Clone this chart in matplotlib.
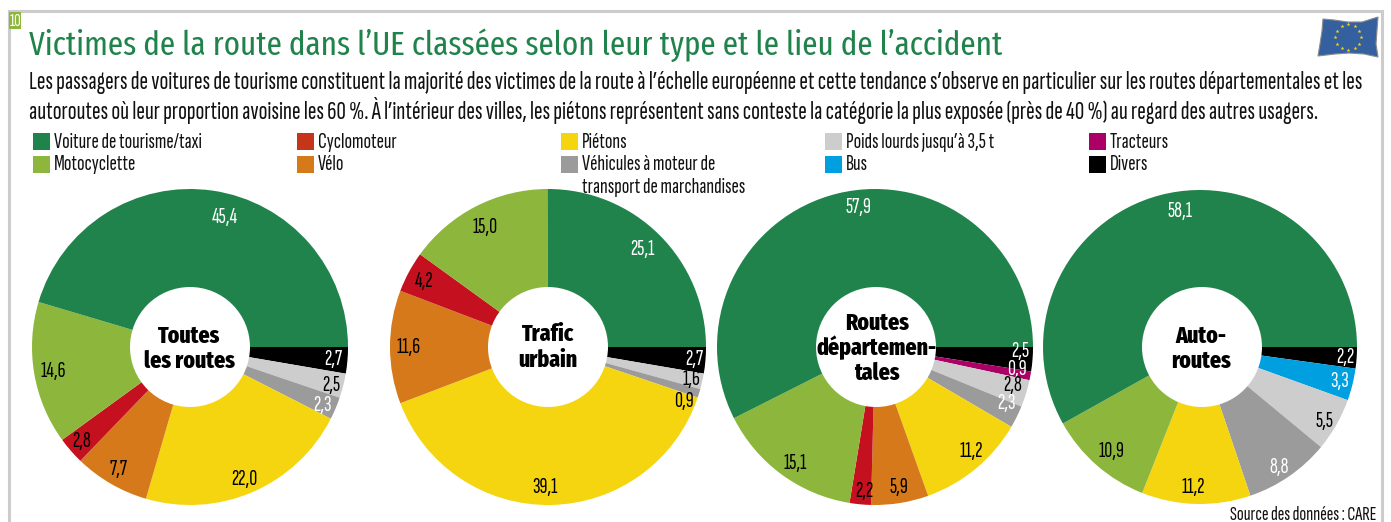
import matplotlib
matplotlib.use("Agg")
import matplotlib.pyplot as plt
from matplotlib.patches import Circle, Polygon, Rectangle
import numpy as np

W = 1391
H = 522
BODY = ["Sofia Sans Extra Condensed", "Fira Sans Extra Condensed", "Liberation Sans", "DejaVu Sans"]
HEAD = ["Fira Sans Extra Condensed", "Liberation Sans", "DejaVu Sans"]
plt.rcParams["font.family"] = BODY

GREEN = "#20834b"
MOTO = "#8db63c"
RED = "#c5101f"
ORANGE = "#d6791b"
YELLOW = "#f5d50f"
GREY = "#9b9b9b"
LGREY = "#cdcdcd"
TRACT = "#ab0066"
BUS = "#009fe0"
BLACK = "#000000"

# values, clockwise from 3 o'clock
all_values = [2.7, 2.5, 2.3, 22.0, 7.7, 2.8, 14.6, 45.4]
all_colors = [BLACK, LGREY, GREY, YELLOW, ORANGE, RED, MOTO, GREEN]
urban_values = [2.7, 1.6, 0.9, 39.1, 11.6, 4.2, 15.0, 25.1]
urban_colors = [BLACK, LGREY, GREY, YELLOW, ORANGE, RED, MOTO, GREEN]
dept_values = [2.5, 0.9, 2.8, 2.3, 11.2, 5.9, 2.2, 15.1, 57.9]
dept_colors = [BLACK, TRACT, LGREY, GREY, YELLOW, ORANGE, RED, MOTO, GREEN]
auto_values = [2.2, 3.3, 5.5, 8.8, 11.2, 10.9, 58.1]
auto_colors = [BLACK, BUS, LGREY, GREY, YELLOW, MOTO, GREEN]

legend_names = [["Voiture de tourisme/taxi", "Motocyclette"],
                ["Cyclomoteur", "Vélo"],
                ["Piétons", "Véhicules à moteur de\ntransport de marchandises"],
                ["Poids lourds jusqu’à 3,5 t", "Bus"],
                ["Tracteurs", "Divers"]]
legend_colors = [[GREEN, MOTO], ["#c5351a", ORANGE], [YELLOW, GREY], [LGREY, BUS], [TRACT, BLACK]]

title = "Victimes de la route dans l’UE classées selon leur type et le lieu de l’accident"
intro1 = "Les passagers de voitures de tourisme constituent la majorité des victimes de la route à l’échelle européenne et cette tendance s’observe en particulier sur les routes départementales et les"
intro2 = "autoroutes où leur proportion avoisine les 60 %. À l’intérieur des villes, les piétons représentent sans conteste la catégorie la plus exposée (près de 40 %) au regard des autres usagers."

fig = plt.figure(figsize=(W / 100, H / 100), dpi=100)
ax = fig.add_axes([0, 0, 1, 1])


def Y(y):
    return H - y


def put(x, y, s, **kw):
    kw.setdefault("va", "center")
    kw.setdefault("ha", "center")
    ax.text(x, Y(y), s, **kw)


def donut(values, colors, cx, cy, r, hole_x, center_lines, labels):
    ax.pie(values, colors=colors, startangle=0, counterclock=False,
           center=(cx, Y(cy)), radius=r, normalize=True,
           wedgeprops={"linewidth": 0})
    ax.add_patch(Circle((hole_x, Y(cy)), 60, fc="white", ec="none", zorder=3))
    for (tx, ty, s) in center_lines:
        put(tx, ty, s, fontsize=17, fontweight=800, color="black", zorder=4, family=HEAD)
    for v, (lx, ly, col) in zip(values, labels):
        put(lx, ly, ("%.1f" % v).replace(".", ","), fontsize=16, color=col, zorder=4)


donut(all_values, all_colors, 190, 347, 158, 190,
      [(189, 336, "Toutes"), (189, 361, "les routes")],
      [(333, 359, "white"), (331, 385, "black"), (322, 405, "white"), (244, 479, "black"),
       (118, 469, "black"), (82, 442, "black"), (53, 372, "black"), (225, 218, "white")])
donut(urban_values, urban_colors, 548, 347, 158, 548,
      [(548, 334, "Trafic"), (548, 360, "urbain")],
      [(694, 360, "white"), (691, 380, "black"), (684, 401, "black"), (545, 488, "black"),
       (409, 347, "black"), (424, 282, "black"), (485, 228, "black"), (642, 249, "white")])
donut(dept_values, dept_colors, 875, 347, 158, 876,
      [(877, 323, "Routes"), (877, 348, "départemen-"), (877, 373, "tales")],
      [(1020, 351, "white"), (1017, 369, "white"), (1013, 386, "black"), (1006, 404, "white"),
       (971, 451, "black"), (899, 488, "black"), (864, 491, "black"), (795, 463, "black"),
       (858, 208, "white")])
donut(auto_values, auto_colors, 1200, 347, 157, 1202,
      [(1201, 336, "Auto-"), (1201, 361, "routes")],
      [(1345, 358, "white"), (1340, 382, "white"), (1325, 421, "black"), (1279, 467, "white"),
       (1193, 487, "black"), (1111, 452, "black"), (1180, 211, "white")])

# frame
ax.plot([9, 9, 1382, 1382], [Y(522), Y(11), Y(11), Y(522)], color="#cccccc", lw=2.2, zorder=1,
        solid_joinstyle="miter")
ax.add_patch(Rectangle((9, Y(29)), 12, 17, fc=MOTO, ec="none", zorder=2))
put(15, 21, "10", fontsize=13, color="white", zorder=3)

# heading
put(29, 45, title, ha="left", fontsize=24.2, color=GREEN, family=HEAD)
put(29, 82, intro1, ha="left", fontsize=18.7, color="#111111")
put(29, 110, intro2, ha="left", fontsize=18.7, color="#111111")

# legend
col_x = [33, 297, 561, 825, 1089]
row_y = [141, 164]
for x, names, cols in zip(col_x, legend_names, legend_colors):
    for y, name, c in zip(row_y, names, cols):
        ax.add_patch(Rectangle((x, Y(y + 9)), 17, 17, fc=c, ec="none"))
        parts = name.split("\n")
        for i, p in enumerate(parts):
            put(x + 21, y + 1 + i * 22.5, p, ha="left", fontsize=16, color="#111111")

put(1377, 515, "Source des données : CARE", ha="right", fontsize=14.6, color="#111111")

# flag
xs = np.array([1323, 1334, 1348, 1362, 1378, 1377, 1376, 1378, 1364, 1349, 1335, 1318, 1320, 1322])
ys = np.array([19, 20, 22, 22, 17, 30, 44, 57, 54, 53, 54, 56, 44, 31])
ax.add_patch(Polygon(np.c_[xs, H - ys], closed=True, fc="#34609f", ec="#8a8a8a", lw=0.8, zorder=2))
ang = np.arange(12) * np.pi / 6
ax.scatter(1348 + 13 * np.cos(ang), Y(37) + 13 * np.sin(ang), marker="*", s=9, c="#f5d50f", lw=0, zorder=3)

ax.set_xlim(0, W)
ax.set_ylim(0, H)
ax.set_aspect("auto")
ax.axis("off")
fig.savefig("out.png", dpi=100, facecolor="white")
